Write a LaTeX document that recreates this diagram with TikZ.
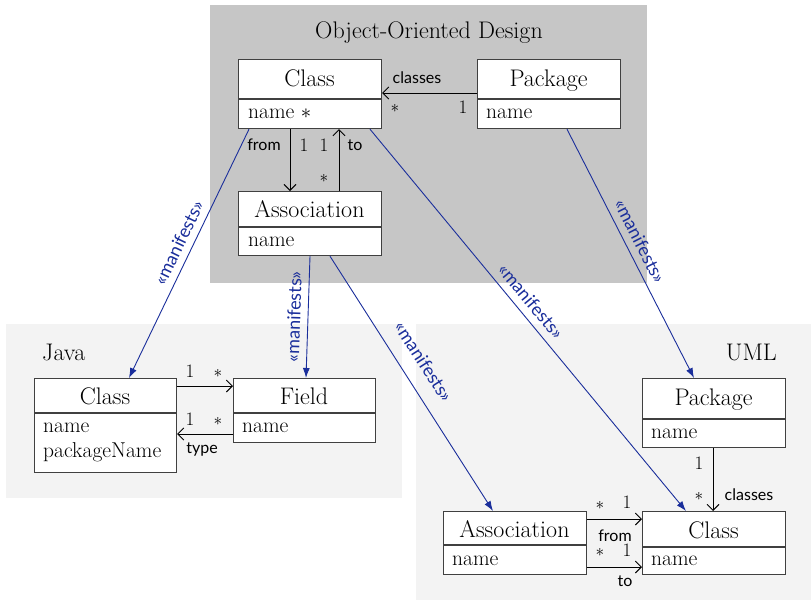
\documentclass[tikz,border=0pt]{standalone}
\usepackage{fontspec}
\newfontfamily\lblfont{Lato}
\usetikzlibrary{arrows.meta}
\definecolor{oodbg}{HTML}{C6C6C6}
\definecolor{pkgbg}{HTML}{F3F3F3}
\definecolor{mblue}{HTML}{1A2E9B}
\definecolor{ink}{HTML}{000000}
\begin{document}
\begin{tikzpicture}[x=1pt,y=-1pt,
  box/.style={draw=black!75, line width=1.2pt, fill=white, inner sep=0pt, minimum width=143pt, anchor=north west},
  divline/.style={draw=black!75, line width=1.1pt},
  hdr/.style={font=\fontsize{24}{28}\selectfont, text=ink, inner sep=0pt, anchor=base},
  attr/.style={font=\fontsize{21.5}{24}\selectfont, text=ink, inner sep=0pt, anchor=base west},
  ttl/.style={font=\fontsize{24}{28}\selectfont, text=ink, inner sep=0pt},
  lbl/.style={font=\lblfont\fontsize{16}{19}\selectfont, text=ink, inner sep=0pt},
  mult/.style={font=\fontsize{19}{21}\selectfont, text=ink, inner sep=0pt},
  assoc/.style={draw=ink, line width=0.9pt, -{Straight Barb[length=6pt,width=12pt]}},
  manif/.style={draw=mblue, line width=0.9pt, -{Latex[length=10pt,width=7pt]}},
  mlbl/.style={font=\lblfont\fontsize{18}{21}\selectfont, text=mblue, sloped, above=5pt, inner sep=2pt}
]
\useasboundingbox (0,0) rectangle (811,600);

% regions
\fill[oodbg] (210,5) rectangle (647,283);
\fill[pkgbg] (6,324) rectangle (402,498);
\fill[pkgbg] (416,324) rectangle (811,600);
\node[ttl, anchor=base] (oodT) at (429,38) {Object-Oriented Design};
\node[ttl, anchor=base west] (javaT) at (42,360) {Java};
\node[ttl, anchor=base east] (umlT) at (777,360) {UML};

% boxes: OOD
\node[box, minimum height=69pt] (oc) at (238,59) {};
\node[box, minimum height=69pt] (pc) at (477,59) {};
\node[box, minimum height=64pt] (oa) at (238,191) {};
% Java
\node[box, minimum width=142pt, minimum height=94pt] (jc) at (34,378) {};
\node[box, minimum width=142pt, minimum height=64pt] (jf) at (233,378) {};
% UML
\node[box, minimum height=69pt] (up) at (642,378) {};
\node[box, minimum height=63pt] (uc) at (642,511) {};
\node[box, minimum height=63pt] (ua) at (443,511) {};

% dividers
\draw[divline] (oc.west |- 0,99) -- (oc.east |- 0,99);
\draw[divline] (pc.west |- 0,99) -- (pc.east |- 0,99);
\draw[divline] (oa.west |- 0,227) -- (oa.east |- 0,227);
\draw[divline] (jc.west |- 0,413) -- (jc.east |- 0,413);
\draw[divline] (jf.west |- 0,413) -- (jf.east |- 0,413);
\draw[divline] (up.west |- 0,419) -- (up.east |- 0,419);
\draw[divline] (uc.west |- 0,547) -- (uc.east |- 0,547);
\draw[divline] (ua.west |- 0,545) -- (ua.east |- 0,545);

% texts
\node[hdr] (ocH) at (309.5,86) {Class};
\node[attr] (ocN) at (248,118) {name~$*$};
\node[hdr] (pcH) at (548.5,86) {Package};
\node[attr] (pcN) at (486,118) {name};
\node[hdr] (oaH) at (309.5,217) {Association};
\node[attr] (oaN) at (248,246) {name};

\node[hdr] (jcH) at (105,404) {Class};
\node[attr] (jcN) at (43,432) {name};
\node[attr] (jcP) at (43,457) {packageName};
\node[hdr] (jfH) at (304,404) {Field};
\node[attr] (jfN) at (242,432) {name};

\node[hdr] (upH) at (713.5,405) {Package};
\node[attr] (upN) at (651,438) {name};
\node[hdr] (ucH) at (713.5,538) {Class};
\node[attr] (ucN) at (651,565) {name};
\node[hdr] (uaH) at (514.5,537) {Association};
\node[attr] (uaN) at (452,565) {name};

% OOD associations
\draw[assoc] (pc.west |- 0,93) -- (oc.east |- 0,93);
\node[lbl] (l1) at (417,78) {classes};
\node[mult] (m1) at (395,108) {$*$};
\node[mult] (m2) at (463,107) {1};
\draw[assoc] (oc.south -| 290,0) -- (oa.north -| 290,0);
\node[lbl] (l2) at (264,145) {from};
\node[mult] (m3) at (304,145) {1};
\draw[assoc] (oa.north -| 339,0) -- (oc.south -| 339,0);
\node[mult] (m4) at (324,145) {1};
\node[lbl] (l3) at (355,145) {to};
\node[mult] (m5) at (324,178) {$*$};

% Java associations
\draw[assoc] (jc.east |- 0,386) -- (jf.west |- 0,386);
\node[mult] (m6) at (190,371) {1};
\node[mult] (m7) at (218,373) {$*$};
\draw[assoc] (jf.west |- 0,434) -- (jc.east |- 0,434);
\node[mult] (m8) at (190,419) {1};
\node[mult] (m9) at (218,421) {$*$};
\node[lbl] (l4) at (202,449) {type};

% UML associations
\draw[assoc] (up.south -| 713,0) -- (uc.north -| 713,0);
\node[mult] (m10) at (699,463) {1};
\node[mult] (m11) at (699,496) {$*$};
\node[lbl] (l5) at (749,495) {classes};
\draw[assoc] (ua.east |- 0,519) -- (uc.west |- 0,519);
\node[mult] (m12) at (600,505) {$*$};
\node[mult] (m13) at (627,502) {1};
\node[lbl] (l6) at (615,536) {from};
\draw[assoc] (ua.east |- 0,567) -- (uc.west |- 0,567);
\node[mult] (m14) at (600,552) {$*$};
\node[mult] (m15) at (627,550) {1};
\node[lbl] (l7) at (625,581) {to};

% manifests
\draw[manif] (oc.south -| 249,0) -- node[mlbl, pos=.48] {«manifests»} (jc.north -| 129,0);
\draw[manif] (oa.south -| 310,0) -- node[mlbl, pos=.5] {«manifests»} (jf.north -| 306,0);
\draw[manif] (oa.south -| 330,0) -- node[mlbl, pos=.46, above=8pt] {«manifests»} (ua.north -| 493,0);
\draw[manif] (oc.south -| 370,0) -- node[mlbl, pos=.475] {«manifests»} (uc.north -| 686,0);
\draw[manif] (pc.south -| 567,0) -- node[mlbl, pos=.476] {«manifests»} (up.north -| 694,0);
\end{tikzpicture}
\end{document}
